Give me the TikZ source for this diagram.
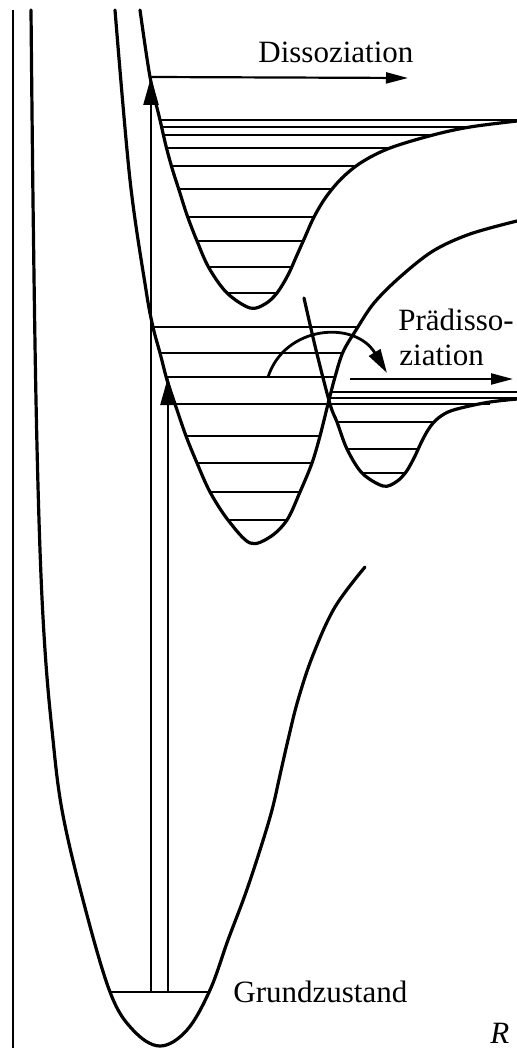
\documentclass[tikz,border=0pt]{standalone}
\usepackage{fontspec}
\setmainfont{Liberation Serif}
\usetikzlibrary{arrows.meta}
\begin{document}
\begin{tikzpicture}[x=0.5pt,y=-0.5pt,
  curve/.style={line width=1.6pt, line join=round, line cap=round},
  level/.style={line width=1pt},
  lbl/.style={font=\fontsize{15.5}{18}\selectfont, inner sep=0pt, anchor=base west},
  bigtip/.style={-{Triangle[length=14pt,width=7.5pt]}, line width=1.2pt},
  smalltip/.style={-{Triangle[length=11pt,width=5.5pt]}, line width=1.1pt}]
\useasboundingbox (0,0) rectangle (517,1048);
\fill[white] (0,0) rectangle (517,1048);

% energy axis
\coordinate (axtop) at (13,10);
\coordinate (axbot) at (13,1048);
\draw[line width=1pt] (axtop) -- (axbot);

% ground state potential
\draw[curve] plot[smooth, tension=0.6] coordinates {(31,10) (33,200) (36,400) (40,550) (45,650) (52,730) (62,810) (83,900) (110,992) (133,1030) (160,1046) (187,1030) (210,990) (228,940) (245,895) (260,850) (272,810) (280,775) (288,740) (298,700) (313,655) (335,607) (365,567)};
\coordinate (gl) at (110,992);
\coordinate (gr) at (210,992);
\draw[level] (gl) -- (gr);

% upper bound state (B)
\draw[curve] plot[smooth, tension=0.55] coordinates {(140,10) (150,77) (160,120) (166,146) (172,168) (179,190) (187,215) (197,241) (209,268) (227,293) (250,308) (265,304) (277,293) (288,275) (297,255) (305,237) (314,217) (326,197) (342,178) (362,162) (390,148) (433,135) (470,127) (517,121)};
\foreach \y/\a/\b in {120/159/517,127/161/470,135/163/433,148/166/390,166/171/357,189/179/333,217/188/314,241/197/303,267/208/291,293/227/277}
  \draw[level] (\a,\y) -- (\b,\y);

% middle bound state (C)
\draw[curve] plot[smooth, tension=0.55] coordinates {(115,10) (130,180) (146,290) (153,327) (160,353) (167,380) (175,404) (186,436) (197,463) (210,492) (228,520) (250,543) (270,537) (287,520) (300,492) (312,463) (320,436) (328,404) (335,377) (343,352) (356,330) (374,303) (400,277) (433,251) (470,234) (517,221)};
\foreach \y/\a/\b in {327/153/358,353/160/343,377/167/335,436/186/320,463/197/312,492/210/300,520/228/287}
  \draw[level] (\a,\y) -- (\b,\y);

% predissociating state (D)
\draw[curve] plot[smooth, tension=0.55] coordinates {(304,298) (316,350) (330,404) (337,422) (347,449) (362,473) (383,486) (396,482) (406,472) (414,458) (421,443) (428,430) (436,420) (448,412) (465,407) (490,402) (517,399)};
\foreach \y/\a/\b in {392/332/517,398/330/517,404/175/490,422/337/433,449/347/418,473/363/405}
  \draw[level] (\a,\y) -- (\b,\y);

% vertical excitation arrows
\coordinate (g1) at (151,992);
\coordinate (t1) at (151,77);
\coordinate (g2) at (168,992);
\coordinate (t2) at (168,377);
\draw[bigtip] (g1) -- (t1);
\draw[bigtip] (g2) -- (t2);

% dissociation arrow
\coordinate (dend) at (408,78);
\draw[smalltip] (t1) -- (dend);

% predissociation arrows
\coordinate (c1) at (268,377);
\coordinate (c2) at (387,373);
\draw[line width=1.4pt, -{Triangle[length=12pt,width=6.5pt]}] (c1) .. controls (285,325) and (355,320) .. (c2);
\coordinate (p1) at (350,379);
\coordinate (p2) at (513,379);
\draw[smalltip] (p1) -- (p2);

% labels
\node[lbl] (diss) at (258,63) {Dissoziation};
\node[lbl] (pd1) at (398,330) {Prädisso-};
\node[lbl] (pd2) at (399,365) {ziation};
\node[lbl] (gz) at (233,1002) {Grundzustand};
\node[lbl, text depth=0pt] (rr) at (490,1043) {\textit{R}};
\end{tikzpicture}
\end{document}
